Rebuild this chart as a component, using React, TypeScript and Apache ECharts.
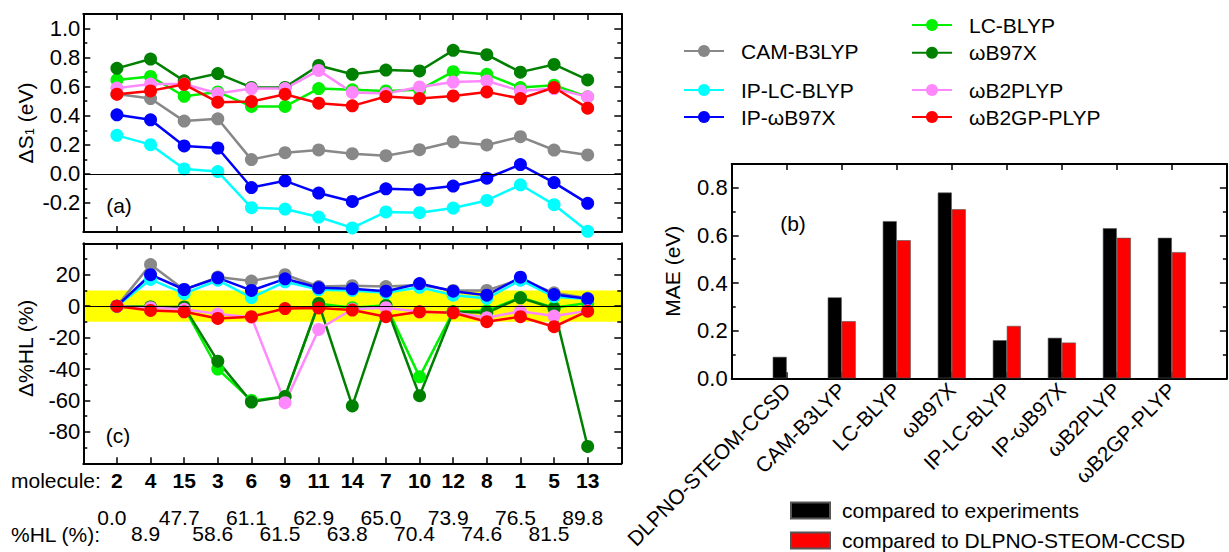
import React, { useEffect, useRef } from 'react';
import * as echarts from 'echarts';

// ---------- data ----------
const molecules = ['2', '4', '15', '3', '6', '9', '11', '14', '7', '10', '12', '8', '1', '5', '13'];
const hlPercent = [0.0, 8.9, 47.7, 58.6, 61.1, 61.5, 62.9, 63.8, 65.0, 70.4, 73.9, 74.6, 76.5, 81.5, 89.8];

const methods = ['CAM-B3LYP', 'LC-BLYP', 'ωB97X', 'IP-LC-BLYP', 'IP-ωB97X', 'ωB2PLYP', 'ωB2GP-PLYP'];
const methodColors = ['#888888', '#00f000', '#008000', '#00ffff', '#0000ff', '#ff88ff', '#ff0000'];

// panel (a): ΔS1 (eV)
const a_CAM = [0.55, 0.518, 0.363, 0.379, 0.098, 0.146, 0.165, 0.139, 0.125, 0.166, 0.221, 0.199, 0.256, 0.164, 0.13];
const a_LCBLYP = [0.646, 0.67, 0.534, 0.564, 0.464, 0.464, 0.587, 0.578, 0.571, 0.578, 0.703, 0.685, 0.594, 0.61, 0.53];
const a_wB97X = [0.726, 0.79, 0.64, 0.69, 0.595, 0.595, 0.746, 0.685, 0.714, 0.708, 0.85, 0.82, 0.7, 0.753, 0.646];
const a_IPLCBLYP = [0.265, 0.201, 0.034, 0.016, -0.233, -0.242, -0.297, -0.372, -0.262, -0.267, -0.235, -0.183, -0.075, -0.212, -0.395];
const a_IPwB97X = [0.406, 0.372, 0.192, 0.178, -0.094, -0.048, -0.132, -0.19, -0.103, -0.11, -0.084, -0.03, 0.064, -0.06, -0.203];
const a_wB2PLYP = [0.59, 0.618, 0.618, 0.553, 0.587, 0.587, 0.712, 0.56, 0.553, 0.598, 0.632, 0.639, 0.571, 0.587, 0.53];
const a_wB2GPPLYP = [0.548, 0.571, 0.616, 0.493, 0.498, 0.548, 0.486, 0.468, 0.532, 0.518, 0.536, 0.564, 0.518, 0.594, 0.452];

// panel (c): Δ%HL (%)
const c_CAM = [0, 26.5, 10.5, 18.5, 16, 20, 12.5, 13, 12.5, 13.5, 10, 10, 17, 8.5, 5];
const c_LCBLYP = [0, -0.5, -1, -40, -60, -57.5, 1.5, -1, 0.5, -45, -3.5, -3, 5.5, -1, 2];
const c_wB97X = [0, -0.5, -0.5, -35, -61, -57.5, 1.7, -63.5, 0.4, -57, -3.6, -4.2, 5.3, -1.5, -89.3];
const c_IPLCBLYP = [0, 17, 8, 16.5, 5.5, 15.5, 10.5, 10, 8.5, 12, 7, 5, 16.5, 6, 4.5];
const c_IPwB97X = [0, 20, 10.6, 18, 10, 17.4, 11.7, 11, 9.5, 14.4, 9.5, 7, 18.4, 7.4, 4.7];
const c_wB2PLYP = [0, -1, -2, -5, -7, -61.4, -14.8, -2, -1, -3.6, -4, -7.4, -3.2, -6.3, -3];
const c_wB2GPPLYP = [0, -2.7, -3.6, -7.8, -6.7, -1.5, -1.1, -2.5, -6.7, -3.6, -4.2, -9.9, -6.7, -13.1, -3.2];

// panel (b): MAE (eV)
const maeMethods = ['DLPNO-STEOM-CCSD', 'CAM-B3LYP', 'LC-BLYP', 'ωB97X', 'IP-LC-BLYP', 'IP-ωB97X', 'ωB2PLYP', 'ωB2GP-PLYP'];
const maeVsExp = [0.09, 0.34, 0.66, 0.78, 0.16, 0.17, 0.63, 0.59];
const maeVsDlpno = [null, 0.24, 0.58, 0.71, 0.22, 0.15, 0.59, 0.53];
const barNames = ['compared to experiments', 'compared to DLPNO-STEOM-CCSD'];

const aSeries = [a_CAM, a_LCBLYP, a_wB97X, a_IPLCBLYP, a_IPwB97X, a_wB2PLYP, a_wB2GPPLYP];
const cSeries = [c_CAM, c_LCBLYP, c_wB97X, c_IPLCBLYP, c_IPwB97X, c_wB2PLYP, c_wB2GPPLYP];

// ---------- style helpers ----------
const FONT = '"Liberation Sans", Arial, Helvetica, sans-serif';
const FS = 21;
const TFS = 22;

const frameLine = { show: true, onZero: false, lineStyle: { color: '#000', width: 2 } };
const inTick = (len: number) => ({ show: true, inside: true, length: len, lineStyle: { color: '#000', width: 1.5 } });
const minorT = { show: true, splitNumber: 2, length: 4, lineStyle: { color: '#000', width: 1.5 } };
const noSplit = { show: false };
const lblStyle = { color: '#000', fontSize: FS, fontFamily: FONT };
const tickLbl = { color: '#000', fontSize: TFS, fontFamily: FONT };

const fmt1 = (v: number) => (Math.abs(v) < 1e-9 ? '0.0' : v.toFixed(1));

function buildOption() {
  const grids = [
    { left: 83.3, top: 14, width: 538, height: 218 },
    { left: 83.3, top: 243.3, width: 538, height: 220 },
    { left: 731.7, top: 164, width: 498.6, height: 214.3 },
  ];

  const molAxisBase = { type: 'value', min: 0, max: 16, interval: 1, z: 1.5, axisLine: frameLine, axisTick: inTick(6), splitLine: noSplit };

  const xAxis: any[] = [
    { ...molAxisBase, gridIndex: 0, position: 'bottom', axisLabel: { show: false } },
    { ...molAxisBase, gridIndex: 0, position: 'top', axisLabel: { show: false } },
    {
      ...molAxisBase,
      gridIndex: 1,
      position: 'bottom',
      axisLabel: {
        show: true,
        margin: 6,
        color: '#000',
        fontFamily: FONT,
        fontSize: FS,
        formatter: (v: number) => {
          const i = Math.round(v) - 1;
          if (i < 0 || i >= molecules.length) return '';
          const hl = hlPercent[i].toFixed(1);
          const top = i % 2 === 0 ? `{v|${hl}}` : '{e| }';
          const bot = i % 2 === 1 ? `{v|${hl}}` : '{e| }';
          return `{m|${molecules[i]}}\n{s| }\n${top}\n${bot}`;
        },
        rich: {
          m: { fontWeight: 'bold', fontSize: FS, lineHeight: 22, align: 'center', fontFamily: FONT, color: '#000' },
          s: { fontSize: 10, lineHeight: 18, align: 'center' },
          v: { fontSize: FS, lineHeight: 16, align: 'center', fontFamily: FONT, color: '#000', padding: [0, 10, 0, 0] },
          e: { fontSize: 10, lineHeight: 16, align: 'center' },
        },
      },
    },
    { ...molAxisBase, gridIndex: 1, position: 'top', axisLabel: { show: false } },
    {
      type: 'value', gridIndex: 2, position: 'bottom', min: 0, max: 9, interval: 1, z: 1.5,
      axisLine: frameLine, axisTick: inTick(6), splitLine: noSplit,
      axisLabel: {
        ...lblStyle,
        rotate: 45,
        margin: 8,
        formatter: (v: number) => {
          const i = Math.round(v) - 1;
          return i >= 0 && i < maeMethods.length ? maeMethods[i] : '';
        },
      },
    },
    {
      type: 'value', gridIndex: 2, position: 'top', min: 0, max: 9, interval: 1, z: 1.5,
      axisLine: frameLine, axisTick: inTick(6), splitLine: noSplit, axisLabel: { show: false },
    },
  ];

  const yAxis: any[] = [
    {
      type: 'value', gridIndex: 0, position: 'left', min: -0.4, max: 1.1, interval: 0.2, z: 1.5,
      axisLine: frameLine, axisTick: inTick(7), minorTick: minorT, splitLine: noSplit, minorSplitLine: noSplit,
      axisLabel: { ...tickLbl, margin: 3, showMinLabel: false, showMaxLabel: false, formatter: fmt1 },
      name: 'ΔS{sub|1} (eV)', nameLocation: 'middle', nameRotate: 90, nameGap: 47,
      nameTextStyle: { ...lblStyle, rich: { sub: { fontSize: 13, fontFamily: FONT, color: '#000', padding: [9, 0, 0, 0] } } },
    },
    {
      type: 'value', gridIndex: 0, position: 'right', min: -0.4, max: 1.1, interval: 0.2, z: 1.5,
      axisLine: frameLine, axisTick: inTick(7), minorTick: minorT, splitLine: noSplit, axisLabel: { show: false },
    },
    {
      type: 'value', gridIndex: 1, position: 'left', min: -100, max: 40, interval: 20, z: 1.5,
      axisLine: frameLine, axisTick: inTick(7), minorTick: minorT, splitLine: noSplit,
      axisLabel: { ...tickLbl, margin: 3, showMinLabel: false, showMaxLabel: false },
      name: 'Δ%HL (%)', nameLocation: 'middle', nameRotate: 90, nameGap: 47,
      nameTextStyle: { ...lblStyle, padding: [0, 0, 0, 10] },
    },
    {
      type: 'value', gridIndex: 1, position: 'right', min: -100, max: 40, interval: 20, z: 1.5,
      axisLine: frameLine, axisTick: inTick(7), minorTick: minorT, splitLine: noSplit, axisLabel: { show: false },
    },
    {
      type: 'value', gridIndex: 2, position: 'left', min: 0, max: 0.9, interval: 0.2, z: 1.5,
      axisLine: frameLine, axisTick: inTick(7), minorTick: minorT, splitLine: noSplit,
      axisLabel: { ...tickLbl, margin: 4, showMaxLabel: false, formatter: fmt1 },
      name: 'MAE (eV)', nameLocation: 'middle', nameRotate: 90, nameGap: 49,
      nameTextStyle: { ...lblStyle },
    },
    {
      type: 'value', gridIndex: 2, position: 'right', min: 0, max: 0.9, interval: 0.2, z: 1.5,
      axisLine: frameLine, axisTick: inTick(7), minorTick: minorT, splitLine: noSplit, axisLabel: { show: false },
    },
  ];

  const lineSeries = (data: number[][], xi: number, yi: number) =>
    methods.map((name, k) => ({
      type: 'line',
      name,
      xAxisIndex: xi,
      yAxisIndex: yi,
      data: data[k].map((v, i) => [i + 1, v]),
      symbol: 'circle',
      symbolSize: 13,
      lineStyle: { color: methodColors[k], width: 2.5 },
      itemStyle: { color: methodColors[k] },
      z: 2,
    }));

  const series: any[] = [
    {
      type: 'line', xAxisIndex: 0, yAxisIndex: 0, data: [], z: 1, silent: true,
      markLine: {
        silent: true, symbol: ['none', 'none'], label: { show: false },
        lineStyle: { color: '#000', width: 1.2, type: 'solid' },
        data: [{ yAxis: 0 }],
      },
    },
    {
      type: 'line', xAxisIndex: 2, yAxisIndex: 2, data: [], z: 1, silent: true,
      markArea: {
        silent: true, itemStyle: { color: '#ffff00' },
        data: [[{ yAxis: -10 }, { yAxis: 10 }]],
      },
      markLine: {
        silent: true, symbol: ['none', 'none'], label: { show: false },
        lineStyle: { color: '#000', width: 1.2, type: 'solid' },
        data: [{ yAxis: 0 }],
      },
    },
    ...lineSeries(aSeries, 0, 0),
    ...lineSeries(cSeries, 2, 2),
    {
      type: 'bar', name: barNames[0], xAxisIndex: 4, yAxisIndex: 4,
      data: maeVsExp.map((v, i) => [i + 1, v]),
      barWidth: 14, barGap: '0%',
      itemStyle: { color: '#000000', borderColor: '#555', borderWidth: 0.6 },
    },
    {
      type: 'bar', name: barNames[1], xAxisIndex: 4, yAxisIndex: 4,
      data: maeVsDlpno.map((v, i) => (v == null ? null : [i + 1, v])).filter((d) => d != null),
      barWidth: 14, barGap: '0%',
      itemStyle: { color: '#ff0000', borderColor: '#555', borderWidth: 0.6 },
    },
  ];

  const legendBase = {
    orient: 'vertical', padding: 0, itemWidth: 40, itemHeight: 15, itemGap: 5, selectedMode: false,
    textStyle: { ...lblStyle, lineHeight: 22, padding: [0, 0, 0, 12] },
  };

  const legend: any[] = [
    { ...legendBase, data: [methods[0]], left: 683, top: 40 },
    { ...legendBase, data: [methods[1], methods[2]], left: 911, top: 14, itemGap: 5.7 },
    { ...legendBase, data: [methods[3], methods[4]], left: 683, top: 79 },
    { ...legendBase, data: [methods[5], methods[6]], left: 911, top: 79 },
    {
      ...legendBase, data: barNames, left: 790, top: 499.4, itemWidth: 39, itemHeight: 16, itemGap: 8, icon: 'rect',
      textStyle: { ...lblStyle, lineHeight: 22, padding: [0, 0, 0, 7] },
    },
  ];

  const txt = (text: string, x: number, y: number, align: string) => ({
    type: 'text', x, y, silent: true,
    style: { text, fill: '#000', fontSize: FS, fontFamily: FONT, align, verticalAlign: 'middle' },
  });

  const graphic = [
    txt('(a)', 119, 205, 'center'),
    txt('(c)', 118, 435, 'center'),
    txt('(b)', 793, 223, 'center'),
    txt('molecule:', 11, 480.5, 'left'),
    txt('%HL (%):', 11, 534.5, 'left'),
  ];

  return {
    animation: false,
    backgroundColor: '#ffffff',
    grid: grids,
    xAxis,
    yAxis,
    legend,
    graphic,
    series,
  };
}

export default function App() {
  const ref = useRef<HTMLDivElement>(null);
  useEffect(() => {
    if (!ref.current) return;
    const chart = echarts.init(ref.current, null, { renderer: 'svg' });
    chart.setOption(buildOption() as any);
    return () => chart.dispose();
  }, []);
  return (
    <div
      ref={ref}
      style={{ position: 'absolute', left: 0, top: 0, width: 1229, height: 552, background: '#fff' }}
    />
  );
}
